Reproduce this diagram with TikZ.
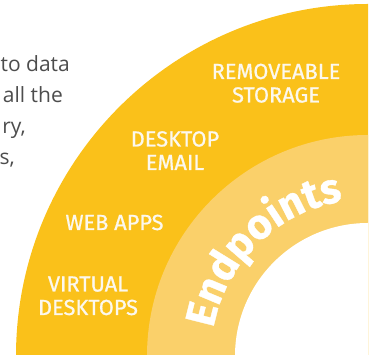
\documentclass[tikz,border=0pt]{standalone}
\usepackage{fontspec}
\setmainfont{Fira Sans}
\newfontfamily\bodyfont{Open Sans}
\newfontfamily\segfont{Fira Sans}[FakeBold=0.8]
\newfontfamily\epfont{Fira Sans}[BoldFeatures={FakeBold=0.8}]
\usetikzlibrary{decorations.text}
\definecolor{darkyel}{RGB}{250,193,26}
\definecolor{lightyel}{RGB}{250,208,106}
\definecolor{bodygray}{RGB}{77,77,77}
\definecolor{labelwhite}{RGB}{252,248,238}
\begin{document}
\begin{tikzpicture}[x=1pt,y=1pt,
  seglabel/.style={text=labelwhite, font=\segfont\fontsize{21.8}{23.5}\selectfont, align=center, inner sep=0pt, anchor=base},
  bodytext/.style={text=bodygray, font=\bodyfont\fontsize{21}{31}\selectfont, inner sep=0pt, anchor=base east}]
\useasboundingbox (0,0) rectangle (373,355);
\clip (0,0) rectangle (373,355);
\coordinate (C) at (368,-1);
% rings
\fill[darkyel] (C) -- ++(90:352pt) arc[start angle=90, end angle=180, radius=352pt] -- cycle;
\fill[lightyel] (C) -- ++(90:221pt) arc[start angle=90, end angle=180, radius=221pt] -- cycle;
\fill[white] (C) -- ++(90:133pt) arc[start angle=90, end angle=180, radius=133pt] -- cycle;
% curved title
\path[decorate, decoration={text along path, text align=center,
  text={|\color{white}\epfont\bfseries\fontsize{42}{42}\selectfont|Endpoints}}]
  (C) ++(177:157pt) arc[start angle=177, end angle=92, radius=157pt];
% segment labels (anchor = baseline of the last line)
\node[seglabel] (storage) at (276,252.5) {REMOVEABLE\\STORAGE};
\node[seglabel] (email) at (175,185) {DESKTOP\\EMAIL};
\node[seglabel] (webapps) at (114.5,125) {WEB APPS};
\node[seglabel] (virtual) at (88,40) {VIRTUAL\\DESKTOPS};
% body text fragments
\node[bodytext] (t1) at (70,283) {to data};
\node[bodytext] (t2) at (63,252) {all the};
\node[bodytext] (t3) at (26,221) {ry,};
\node[bodytext] (t4) at (15,190) {s,};
\end{tikzpicture}
\end{document}
